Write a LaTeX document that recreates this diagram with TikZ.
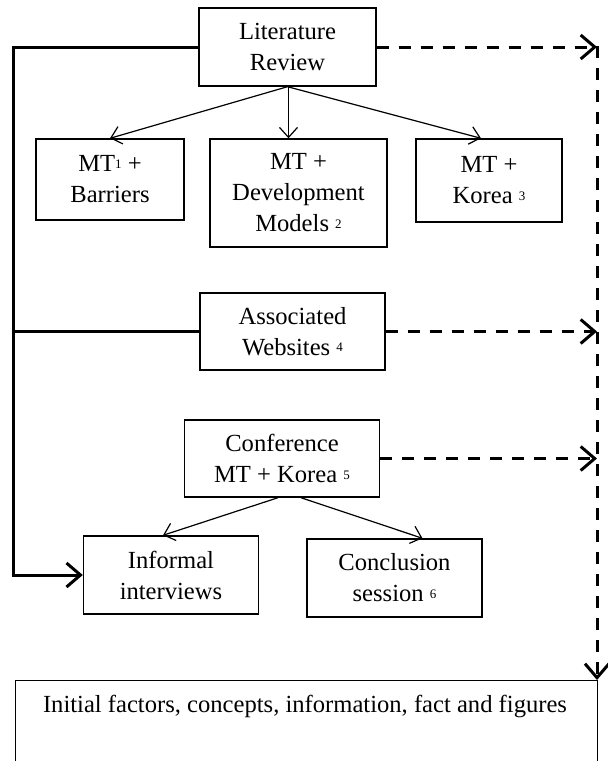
\documentclass[tikz,border=0pt]{standalone}
\usepackage{fontspec}
\setmainfont{Liberation Serif}
\usetikzlibrary{arrows.meta}
\newcommand{\supnum}[1]{\raisebox{3.5pt}{\fontsize{13}{13}\selectfont #1}}
\begin{document}
\begin{tikzpicture}[x=1pt,y=-1pt,
  box/.style={draw, line width=1.4pt, align=center, inner sep=0pt,
    font=\fontsize{24.6}{31}\selectfont},
  thinarrow/.style={line width=1.2pt, -{Straight Barb[length=10pt,width=18pt,line width=1.2pt]}},
  thickline/.style={line width=3pt},
  bigtip/.style={-{Straight Barb[length=14pt,width=24pt,line width=3pt]}},
  dashline/.style={line width=3pt, dash pattern=on 12pt off 10pt}
]
\useasboundingbox (0,0) rectangle (608,761);

\node[box, minimum width=177pt, minimum height=78pt] (lit) at (287.5,47) {Literature\\Review};
\node[box, minimum width=148pt, minimum height=81pt] (bar) at (110,179.5) {MT\supnum{1} +\\Barriers};
\node[box, minimum width=177pt, minimum height=108pt] (dev) at (298.5,193) {MT +\\Development\\Models \supnum{2}};
\node[box, minimum width=146pt, minimum height=83pt] (kor) at (489,180.5) {MT +\\Korea \supnum{3}};
\node[box, minimum width=185pt, minimum height=77pt] (web) at (292.5,331.5) {Associated\\Websites \supnum{4}};
\node[box, minimum width=195pt, minimum height=77pt] (conf) at (282,458.5) {Conference\\MT + Korea \supnum{5}};
\node[box, minimum width=175pt, minimum height=78pt] (inf) at (171,575) {Informal\\interviews};
\node[box, minimum width=175pt, minimum height=78pt] (conc) at (394.5,578) {Conclusion\\session \supnum{6}};

\node[draw, line width=1.4pt, inner sep=0pt, minimum width=582pt, minimum height=140pt, anchor=north west] (fin) at (15,680) {};
\node[font=\fontsize{24.6}{31}\selectfont, inner sep=0pt, anchor=base] (fintxt) at (305,712) {Initial factors, concepts, information, fact and figures};

\coordinate (lx) at (13,0);
\coordinate (rx) at (597,0);

% solid left connector
\draw[thickline, bigtip] (lit.west) -- (lit.west -| lx) |- (inf.west);
\draw[thickline] (web.west) -- (web.west -| lx);

% dashed right connectors
\draw[dashline, bigtip] (lit.east) -- (lit.east -| rx);
\draw[dashline, bigtip] (web.east) -- (web.east -| rx);
\draw[dashline, bigtip] (conf.east) -- (conf.east -| rx);
\draw[dashline, bigtip] ([yshift=1pt]lit.east -| rx) -- (fin.north east -| rx);

% thin arrows
\draw[thinarrow] (lit.south) -- (bar.north);
\draw[thinarrow] ([xshift=1pt]lit.south) -- ([xshift=1pt]lit.south |- dev.north);
\draw[thinarrow] (lit.south) -- ([xshift=-8pt]kor.north);
\draw[thinarrow] ([xshift=-4pt]conf.south) -- ([xshift=-8pt]inf.north);
\draw[thinarrow] ([xshift=19pt]conf.south) -- ([xshift=28pt]conc.north);
\end{tikzpicture}
\end{document}
